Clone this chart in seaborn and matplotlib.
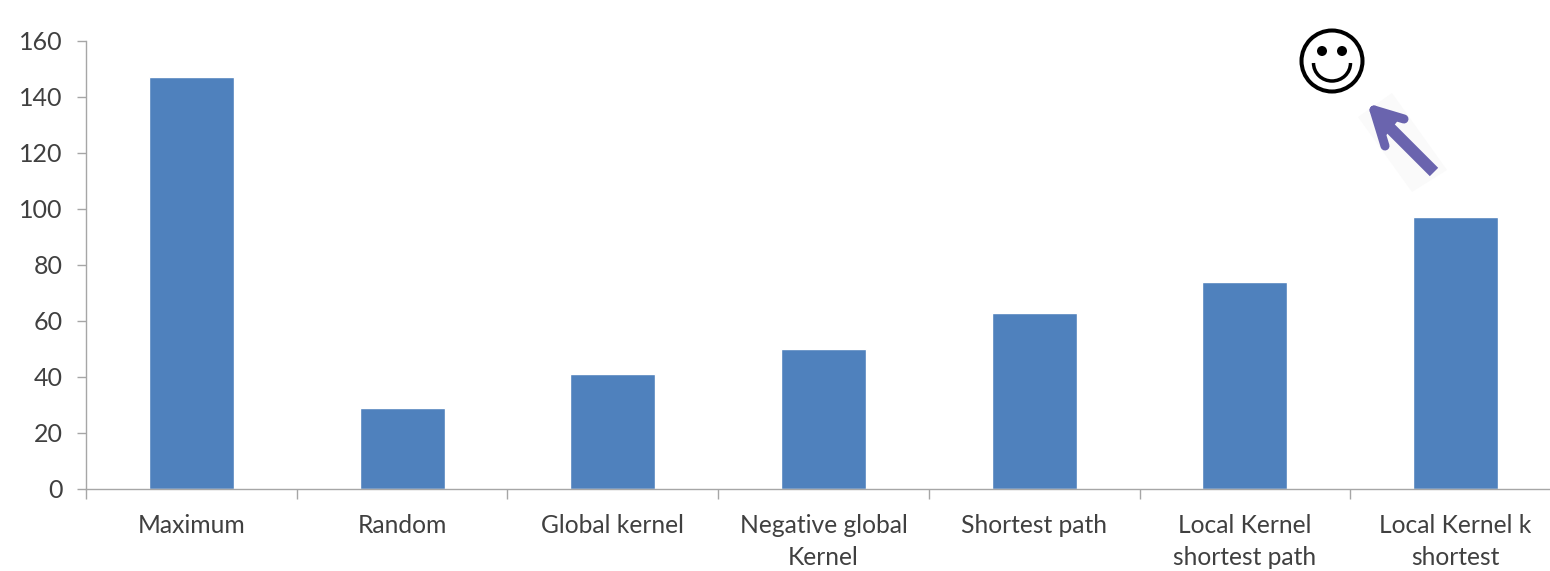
import matplotlib
matplotlib.use("Agg")
import matplotlib.pyplot as plt
from matplotlib.patches import Circle, Arc, Polygon
from matplotlib.ticker import FixedLocator, FixedFormatter, NullFormatter
import pandas as pd
import seaborn as sns

categories = ["Maximum", "Random", "Global kernel", "Negative global\nKernel",
              "Shortest path", "Local Kernel\nshortest path", "Local Kernel k\nshortest"]
values = [147, 29, 41, 50, 63, 74, 97]
y_ticks = [0, 20, 40, 60, 80, 100, 120, 140, 160]

W, H = 1550, 571
BLUE = "#4F81BD"
AXIS = "#A6A6A6"
TEXT = "#404040"
ARROW = "#6A64AE"

sns.set_theme(style="white")
plt.rcParams["font.family"] = ["Lato", "DejaVu Sans"]

fig = plt.figure(figsize=(W / 100, H / 100), dpi=100, facecolor="white")
ax = fig.add_axes([86 / W, 1 - 489 / H, 1475 / W, 448 / H])

df = pd.DataFrame({"method": categories, "count": values})
sns.barplot(data=df, x="method", y="count", color=BLUE, saturation=1, width=0.403, ax=ax)

ax.set_xlim(-0.5, 6.5)
ax.set_ylim(0, 160)
ax.set_yticks(y_ticks)
ax.set_xlabel("")
ax.set_ylabel("")

# Ticks sit between categories; the labels hang on invisible minor ticks at bar centres
ax.xaxis.set_major_locator(FixedLocator([i + 0.5 for i in range(-1, 7)]))
ax.xaxis.set_major_formatter(NullFormatter())
ax.xaxis.set_minor_locator(FixedLocator(range(7)))
ax.xaxis.set_minor_formatter(FixedFormatter(categories))
ax.tick_params(axis="x", which="major", bottom=True, length=7, width=1, color=AXIS, direction="out")
ax.tick_params(axis="x", which="minor", bottom=True, length=0, pad=18, labelsize=17.7, labelcolor=TEXT)
ax.tick_params(axis="y", left=True, length=6.5, width=1, color=AXIS, direction="out", pad=10.5,
               labelsize=18, labelcolor=TEXT)
for lab in ax.get_xticklabels(minor=True):
    lab.set_linespacing(1.45)
for side in ("top", "right"):
    ax.spines[side].set_visible(False)
for side in ("left", "bottom"):
    ax.spines[side].set_color(AXIS)
    ax.spines[side].set_linewidth(1)

# Overlay in pixel coordinates for the hand-placed smiley and arrow
ov = fig.add_axes([0, 0, 1, 1], facecolor="none")
ov.set_xlim(0, W)
ov.set_ylim(H, 0)
ov.axis("off")

ov.add_patch(Circle((1332, 61), 30.5, fill=False, ec="black", lw=2.9))
ov.add_patch(Circle((1322, 51), 5, fc="black", ec="none"))
ov.add_patch(Circle((1342, 51), 5, fc="black", ec="none"))
ov.add_patch(Arc((1332, 63), 37, 36, theta1=0, theta2=180, ec="black", lw=2.5))

# Arrow: pale backing band, shaft, barbs and a filled wedge at the tip
ov.add_patch(Polygon([(1358, 117), (1392, 93), (1447, 170), (1412, 192)],
                     closed=True, fc="#FAFAFA", ec="none", zorder=1))
ov.plot([1434, 1378], [172, 116], color=ARROW, lw=8.5, solid_capstyle="butt", zorder=2)
ov.plot([1374, 1385], [110, 146], color=ARROW, lw=6.5, solid_capstyle="round", zorder=2)
ov.plot([1374, 1404], [110, 119], color=ARROW, lw=6.5, solid_capstyle="round", zorder=2)
ov.add_patch(Polygon([(1371, 106), (1384, 138), (1400, 118)], closed=True,
                     fc=ARROW, ec="none", zorder=2))

fig.savefig("out.png", dpi=100)
